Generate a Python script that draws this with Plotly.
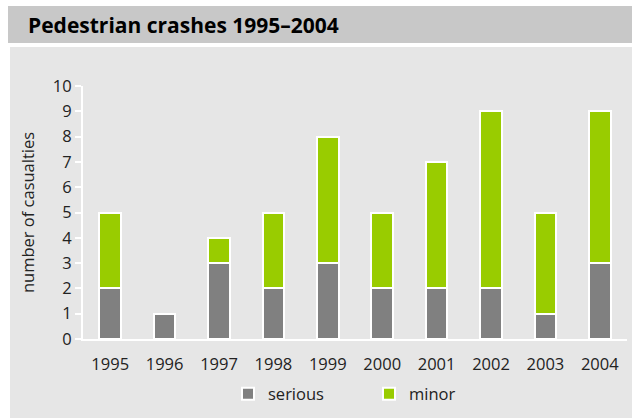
import plotly.graph_objects as go

years = ["1995", "1996", "1997", "1998", "1999", "2000", "2001", "2002", "2003", "2004"]
serious = [2, 1, 3, 2, 3, 2, 2, 2, 1, 3]
minor = [3, 0, 1, 3, 5, 3, 5, 7, 4, 6]
y_ticks = list(range(0, 11))

FONT = "Open Sans"
FS = 16.5
W, H = 632, 418
L, R, T, B = 83, 5, 86, 79
PW, PH = W - L - R, H - T - B


def px(x):
    return (x - L) / PW


def py(y):
    return (H - B - y) / PH


fig = go.Figure()
fig.add_trace(go.Bar(x=years, y=serious, name="serious",
                     marker=dict(color="#808080", line=dict(color="white", width=2)),
                     width=0.4))
fig.add_trace(go.Bar(x=years, y=minor, name="minor",
                     marker=dict(color="#99cc00", line=dict(color="white", width=2)),
                     width=0.4))

fig.update_layout(
    barmode="stack",
    width=W, height=H,
    margin=dict(l=L, r=R, t=T, b=B),
    paper_bgcolor="white",
    plot_bgcolor="rgba(0,0,0,0)",
    font=dict(family=FONT, size=FS, color="#222222"),
    showlegend=True,
    legend=dict(orientation="h", x=px(228), y=py(394), xanchor="left", yanchor="middle",
                entrywidth=96, entrywidthmode="pixels",
                font=dict(size=FS, family=FONT), bgcolor="rgba(0,0,0,0)",
                traceorder="normal"),
    shapes=[
        dict(type="rect", xref="paper", yref="paper", layer="below",
             x0=px(8), x1=px(632), y0=py(43), y1=py(6),
             fillcolor="#c8c8c8", line=dict(width=0)),
        dict(type="rect", xref="paper", yref="paper", layer="below",
             x0=px(10), x1=px(632), y0=py(418), y1=py(47),
             fillcolor="#e6e6e6", line=dict(width=0)),
    ],
    annotations=[
        dict(text="<b>Pedestrian crashes 1995\u20132004</b>", xref="paper", yref="paper",
             x=px(26), y=py(25), xanchor="left", yanchor="middle",
             showarrow=False, font=dict(size=21, family=FONT, color="black")),
    ],
)
fig.update_xaxes(type="category", range=[-0.5, 9.5], showline=True, linecolor="white",
                 linewidth=2, ticks="outside", ticklen=9, tickcolor="rgba(0,0,0,0)",
                 showgrid=False, tickfont=dict(size=FS))
fig.update_yaxes(range=[0, 10], tickvals=y_ticks, showline=True, linecolor="white",
                 linewidth=2, ticks="outside", tickcolor="white", ticklen=6, tickwidth=1.5,
                 showgrid=False, zeroline=False, tickfont=dict(size=FS),
                 title=dict(text="number of casualties", font=dict(size=FS), standoff=14))

fig.write_html("out.html", post_script="document.body.style.margin='0';",
               config={"displayModeBar": False})
